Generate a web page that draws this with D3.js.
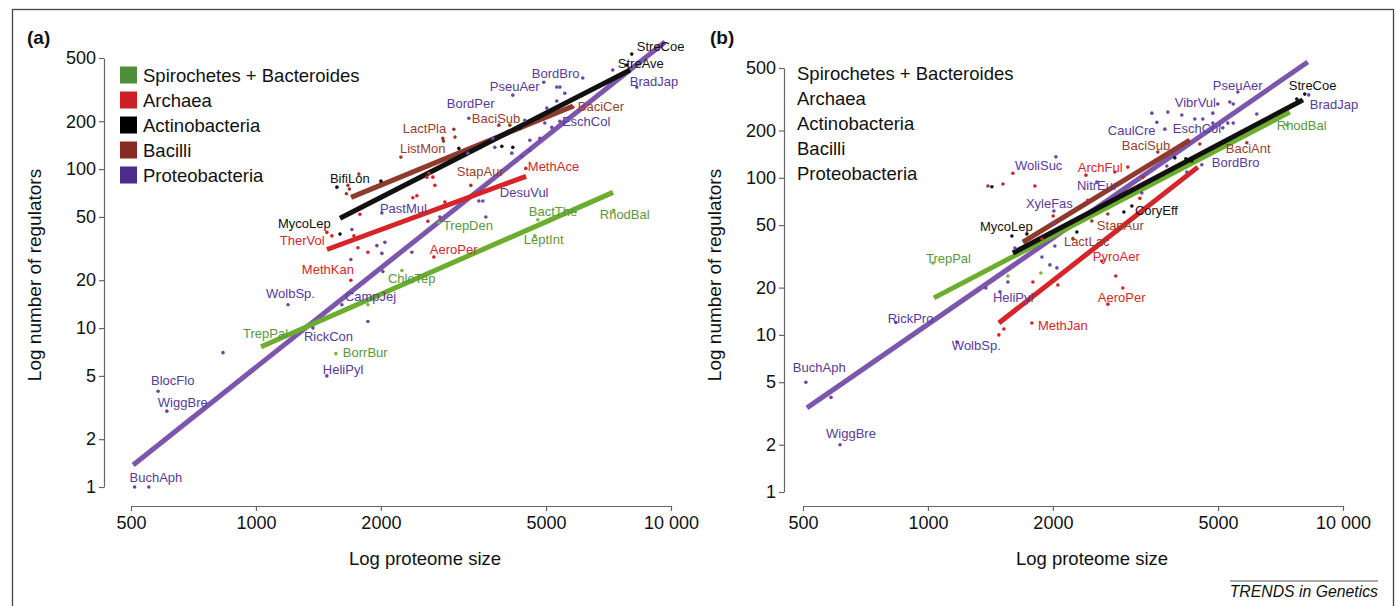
<!DOCTYPE html>
<html lang="en">
<head>
<meta charset="UTF-8">
<title>Regulators vs proteome size</title>
<script src="https://d3js.org/d3.v7.min.js"></script>
<style>
body { margin: 0; background: #fff; }
svg text { font-family: "Liberation Sans", Arial, Helvetica, sans-serif; }
.axis path, .axis line { stroke: #666; stroke-width: 1.2; }
</style>
</head>
<body>
<svg width="1396" height="606"></svg>
<script>
const groupNames = ["Spirochetes + Bacteroides", "Archaea", "Actinobacteria", "Bacilli", "Proteobacteria"];
const groupKeys = ["spiro", "arch", "actino", "bacilli", "proteo"];
const xTicks = [500, 1000, 2000, 5000, 10000];
const yTicks = [1, 2, 5, 10, 20, 50, 100, 200, 500];

// panel (a): [proteome size, number of regulators]
const aSpiro = [[1861, 14]];
const aArch = [[1524, 38], [1722, 38], [1761, 32], [1861, 30], [1780, 52], [2595, 47], [2668, 89], [2698, 79],
  [2581, 89], [2442, 68], [2388, 66], [2852, 62]];
const aActino = [[3912, 139], [4158, 137], [4322, 181], [4777, 209], [3082, 135], [2000, 84]];
const aBacilli = [[1666, 79], [1680, 75], [1652, 70], [1770, 93], [2820, 156], [3017, 159], [2830, 150], [4089, 189], [2610, 94]];
const aProteo = [[552, 1], [833, 7], [1861, 11], [1693, 27], [2022, 22.7], [1956, 33], [2045, 34.6], [2011, 29.5],
  [1703, 41.7], [2375, 30], [2774, 50], [3520, 63], [3580, 50], [3240, 126], [3722, 156], [3763, 137], [4135, 126],
  [4370, 120], [4570, 131], [4830, 156], [4570, 152], [4444, 203], [4937, 352], [5307, 328], [5400, 328], [5548, 300],
  [7240, 420], [5021, 242], [5163, 183], [5307, 268], [4966, 195]];

// labelled genomes: [name, group, proteome size, regulators]
const aLabels = [
  ["BuchAph", "proteo", 510, 1], ["WiggBre", "proteo", 610, 3], ["BlocFlo", "proteo", 581, 4],
  ["HeliPyl", "proteo", 1482, 5], ["RickCon", "proteo", 1372, 10], ["WolbSp.", "proteo", 1195, 14],
  ["CampJej", "proteo", 1611, 14], ["PastMul", "proteo", 2011, 53], ["DesuVul", "proteo", 3444, 63],
  ["BordPer", "proteo", 3258, 209], ["PseuAer", "proteo", 4158, 292], ["BordBro", "proteo", 6130, 374],
  ["BradJap", "proteo", 8270, 328], ["EschCol", "proteo", 5400, 200],
  ["MethKan", "arch", 1693, 20], ["TherVol", "arch", 1482, 40], ["AeroPer", "arch", 2683, 28], ["MethAce", "arch", 4469, 101],
  ["BifiLon", "actino", 1567, 77], ["MycoLep", "actino", 1594, 39], ["StreCoe", "actino", 8044, 529], ["StreAve", "actino", 7826, 451],
  ["ListMon", "bacilli", 2235, 119], ["LactPla", "bacilli", 2998, 178], ["BaciSub", "bacilli", 3848, 189],
  ["BaciCer", "bacilli", 5800, 245], ["StapAur", "bacilli", 3294, 79],
  ["TrepPal", "spiro", 1040, 7.6], ["BorrBur", "spiro", 1558, 6.9], ["ChloTep", "spiro", 2247, 23],
  ["TrepDen", "spiro", 2759, 46], ["LeptInt", "spiro", 4698, 38], ["BactThe", "spiro", 4777, 48], ["RhodBal", "spiro", 7280, 55]
];

// fitted lines: [group, p0, r0, p1, r1]
const aFits = [
  ["proteo", 506, 1.376, 9675, 630],
  ["spiro", 1029, 7.63, 7250, 71.4],
  ["arch", 1483, 31.2, 4475, 90.1],
  ["bacilli", 1695, 66.4, 5807, 249],
  ["actino", 1594, 49, 7970, 420]
];

// panel (b)
const bSpiro = [[1558, 23.7], [1871, 24.8]];
const bArch = [[1482, 10], [1524, 10.9], [1790, 21.7], [2056, 20.8], [1882, 40.8], [2003, 57.1], [1810, 88.7],
  [2402, 104], [2820, 109], [2428, 72], [3240, 74], [2835, 23.7], [2948, 19.9], [4519, 164], [3294, 101], [1602, 107]];
const bActino = [[1731, 43.9], [2285, 45.2], [1426, 87.7], [7738, 317], [7955, 308], [2965, 60.6], [3934, 134], [4182, 132], [4322, 128]];
const bBacilli = [[1395, 88.7], [1516, 91.3], [2114, 55.9], [2483, 53.1]];
const bProteo = [[584, 4], [1558, 21.7], [1379, 19.9], [1967, 27.9], [2045, 26.7], [1882, 31.3], [2022, 36.8], [1620, 35.7],
  [2011, 50.8], [3463, 258], [3784, 262], [3560, 226], [4089, 251], [5278, 223], [5440, 223], [4857, 223], [4595, 237],
  [4395, 237], [4857, 258], [5337, 304], [5440, 295], [6198, 255], [3763, 119], [4205, 109], [3276, 80]];

const bLabels = [
  ["BuchAph", "proteo", 508, 5], ["WiggBre", "proteo", 614, 2], ["RickPro", "proteo", 837, 12],
  ["WolbSp.", "proteo", 1174, 9], ["HeliPyl", "proteo", 1491, 18.8], ["XyleFas", "proteo", 2011, 61.5],
  ["WoliSuc", "proteo", 2034, 136], ["NitrEur", "proteo", 2553, 94], ["CaulCre", "proteo", 3722, 204],
  ["EschCol", "proteo", 5134, 208], ["VibrVul", "proteo", 4993, 295], ["PseuAer", "proteo", 5579, 352],
  ["BradJap", "proteo", 8270, 337], ["BordBro", "proteo", 4569, 121],
  ["MethJan", "arch", 1780, 11.9], ["ArchFul", "arch", 3031, 117], ["PyroAer", "arch", 2624, 29.5], ["AeroPer", "arch", 2713, 15.7],
  ["MycoLep", "actino", 1593, 42.6], ["StreCoe", "actino", 8089, 341], ["CoryEff", "actino", 3100, 66.2],
  ["BaciSub", "bacilli", 3580, 146], ["BaciAnt", "bacilli", 5865, 167], ["StapAur", "bacilli", 2713, 58.8], ["LactLac", "bacilli", 2235, 41],
  ["TrepPal", "spiro", 1028, 28.7], ["RhodBal", "spiro", 7320, 217]
];

const bFits = [
  ["proteo", 511, 3.43, 8225, 546],
  ["spiro", 1034, 17.2, 7443, 262],
  ["arch", 1482, 11.9, 4469, 117],
  ["bacilli", 1693, 39, 4275, 174],
  ["actino", 1602, 33.2, 8000, 313]
];

// label placement (pixel offsets from the point)
const aLabelPos = {BuchAph: [-5, -5], WiggBre: [-9, -4], BlocFlo: [-7, -6], HeliPyl: [-4, -2], RickCon: [-9, 13],
  "WolbSp.": [-22, -7], CampJej: [3, -4], PastMul: [-2, 0], DesuVul: [21, -4], BordPer: [-22, -10], PseuAer: [-23, -4],
  BordBro: [-51, 0], BradJap: [-7, -1], EschCol: [2, 5], MethKan: [-49, -6], TherVol: [-47, 13], AeroPer: [-4, -3],
  MethAce: [2, 3], BifiLon: [-7, -4], MycoLep: [-62, -6], StreCoe: [5, -3], StreAve: [-9, 3], ListMon: [-1, -4],
  LactPla: [-51, 4], BaciSub: [-27, -2], BaciCer: [5, 4], StapAur: [-14, -9], TrepPal: [-20, -9], BorrBur: [7, 3],
  ChloTep: [-14, 12], TrepDen: [4, 7], LeptInt: [-11, 8], BactThe: [-9, -4], RhodBal: [-14, 9]};
const bLabelPos = {BuchAph: [-13, -10], WiggBre: [-14, -7], RickPro: [-8, 1], "WolbSp.": [-5, 8], HeliPyl: [-7, 10],
  XyleFas: [-28, -3], WoliSuc: [-41, 13], NitrEur: [-20, 8], CaulCre: [-57, 6], EschCol: [-50, 5], VibrVul: [-43, 3],
  PseuAer: [-25, -2], BradJap: [1, 14], BordBro: [10, 2], MethJan: [6, 7], ArchFul: [-50, 5], PyroAer: [-9, 0],
  AeroPer: [-10, -2], MycoLep: [-32, -5], StreCoe: [-16, -4], CoryEff: [3, 9], BaciSub: [-36, -2], BaciAnt: [-21, 10],
  StapAur: [-11, 16], LactLac: [-9, 7], TrepPal: [-7, 0], RhodBal: [-10, 5]};

const lineColor = {spiro: "#6bad2e", arch: "#d62428", actino: "#111", bacilli: "#8e3a2c", proteo: "#7c55ad"};
const dotColor = {spiro: "#78b63a", arch: "#d4222a", actino: "#111", bacilli: "#9b3a2a", proteo: "#6a47a6"};
const textColor = {spiro: "#5a983b", arch: "#d3282c", actino: "#111", bacilli: "#963f2e", proteo: "#583a9a"};
const legendColor = {spiro: "#4f8f3a", arch: "#cc1f26", actino: "#000", bacilli: "#862a22", proteo: "#4b2b8c"};

const svg = d3.select("svg");

// frame
svg.append("rect").attr("x", 12.5).attr("y", 9.5).attr("width", 1381).attr("height", 620)
  .attr("fill", "none").attr("stroke", "#444").attr("stroke-width", 1.3);

function drawPanel(cfg, pts, labels, fits, labelPos) {
  const x = d3.scaleLog().domain([500, 10000]).range(cfg.xRange);
  const y = d3.scaleLog().domain([1, 500]).range(cfg.yRange);
  const g = svg.append("g");

  // axes
  g.append("g").attr("class", "axis")
    .attr("transform", `translate(${cfg.yAxisX},0)`)
    .call(d3.axisLeft(y).tickValues(yTicks).tickFormat(d3.format("d")).tickSize(5).tickSizeOuter(0).tickPadding(3))
    .call(s => s.selectAll("text").attr("font-size", 18).attr("fill", "#111")
      .attr("font-family", "Liberation Sans, Arial, sans-serif"));
  g.append("g").attr("class", "axis")
    .attr("transform", `translate(0,${cfg.xAxisY})`)
    .call(d3.axisBottom(x).tickValues(xTicks).tickFormat(d => d === 10000 ? "10 000" : d).tickSize(5).tickSizeOuter(0).tickPadding(5))
    .call(s => s.selectAll("text").attr("font-size", 18).attr("fill", "#111")
      .attr("font-family", "Liberation Sans, Arial, sans-serif"));

  g.append("text").attr("x", cfg.xTitleX).attr("y", 565).attr("text-anchor", "middle")
    .attr("font-size", 18.5).attr("fill", "#111").text("Log proteome size");
  g.append("text").attr("transform", `translate(${cfg.yTitleX},275) rotate(-90)`).attr("text-anchor", "middle")
    .attr("font-size", 19).attr("fill", "#111").text("Log number of regulators");
  g.append("text").attr("x", cfg.tagX).attr("y", 44).attr("font-size", 19).attr("font-weight", "bold")
    .attr("fill", "#111").text(cfg.tag);

  // legend
  const leg = g.append("g");
  groupNames.forEach((name, i) => {
    const cy = cfg.legendY + i * 25;
    if (cfg.legendBoxes) {
      leg.append("rect").attr("x", cfg.legendX).attr("y", cy - 8.5).attr("width", 17).attr("height", 17)
        .attr("fill", legendColor[groupKeys[i]]);
    }
    leg.append("text").attr("x", cfg.legendX + (cfg.legendBoxes ? 23 : 0)).attr("y", cy + 6.5)
      .attr("font-size", 18.5).attr("fill", "#111").text(name);
  });

  // regression lines
  g.selectAll(".fit").data(fits).enter().append("line")
    .attr("x1", d => x(d[1])).attr("y1", d => y(d[2]))
    .attr("x2", d => x(d[3])).attr("y2", d => y(d[4]))
    .attr("stroke", d => lineColor[d[0]]).attr("stroke-width", 5);

  // genomes
  const all = [];
  groupKeys.forEach(k => pts[k].forEach(p => all.push({g: k, p: p[0], r: p[1]})));
  labels.forEach(l => all.push({g: l[1], p: l[2], r: l[3]}));
  g.selectAll(".pt").data(all).enter().append("circle")
    .attr("cx", d => x(d.p)).attr("cy", d => y(d.r)).attr("r", 1.8)
    .attr("fill", d => dotColor[d.g]);

  g.selectAll(".lbl").data(labels).enter().append("text")
    .attr("x", d => x(d[2]) + labelPos[d[0]][0])
    .attr("y", d => y(d[3]) + labelPos[d[0]][1])
    .attr("font-size", 13).attr("fill", d => textColor[d[1]])
    .text(d => d[0]);
}

drawPanel({xRange: [131, 671], yRange: [487, 58], yAxisX: 104, xAxisY: 506, xTitleX: 425, yTitleX: 41,
  tagX: 27, tag: "(a)", legendX: 120, legendY: 75, legendBoxes: true},
  {spiro: aSpiro, arch: aArch, actino: aActino, bacilli: aBacilli, proteo: aProteo}, aLabels, aFits, aLabelPos);

drawPanel({xRange: [803, 1343], yRange: [492, 68], yAxisX: 784, xAxisY: 506, xTitleX: 1092, yTitleX: 721,
  tagX: 710, tag: "(b)", legendX: 797, legendY: 73, legendBoxes: false},
  {spiro: bSpiro, arch: bArch, actino: bActino, bacilli: bBacilli, proteo: bProteo}, bLabels, bFits, bLabelPos);

// journal mark
svg.append("line").attr("x1", 1230).attr("x2", 1378).attr("y1", 581).attr("y2", 581)
  .attr("stroke", "#555").attr("stroke-width", 1);
svg.append("text").attr("x", 1378).attr("y", 597).attr("text-anchor", "end")
  .attr("font-size", 15.8).attr("font-style", "italic").attr("fill", "#111").text("TRENDS in Genetics");
</script>
</body>
</html>
